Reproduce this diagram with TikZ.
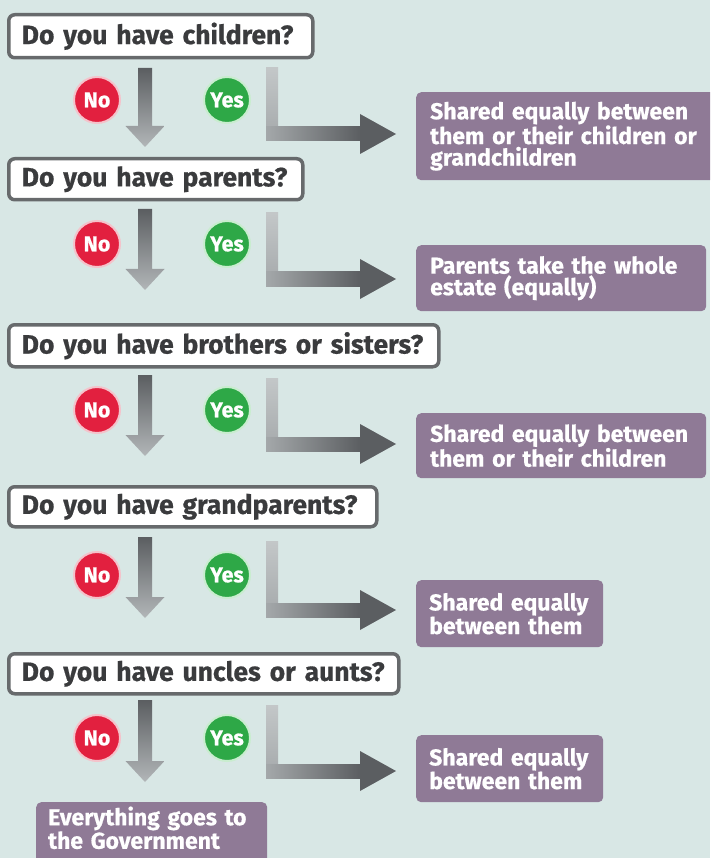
\documentclass[tikz,border=0pt]{standalone}
\usepackage{fontspec}
\setmainfont{Fira Sans}[BoldFeatures={FakeBold=0.6}]
\definecolor{bg}{HTML}{D8E7E5}
\definecolor{purp}{HTML}{8F7A96}
\definecolor{qborder}{HTML}{676A6C}
\definecolor{qtext}{HTML}{3A3B3D}
\definecolor{nored}{HTML}{E2203F}
\definecolor{nohalo}{HTML}{F4C3CB}
\definecolor{yesgreen}{HTML}{2EA847}
\definecolor{yeshalo}{HTML}{C9EDCF}
\definecolor{arrdark}{HTML}{5B5E61}
\definecolor{arrmid}{HTML}{6C6F72}
\definecolor{arrlight}{HTML}{B2B6B8}
\definecolor{lbarA}{HTML}{C3C7C8}
\definecolor{lbarB}{HTML}{A4A8AA}
\newcommand\dnarrow[3]{%
  \shade[top color=arrdark, bottom color=arrlight]
    (#1-7,#2) -- (#1+7,#2) -- (#1+7,#3-21) -- (#1+19.5,#3-21) -- (#1,#3)
    -- (#1-19.5,#3-21) -- (#1-7,#3-21) -- cycle;}
\newcommand\elarrow[2]{%
  \shade[top color=lbarA, bottom color=lbarB] (266,#1) rectangle (278,#2+7);
  \shade[left color=lbarB, middle color=arrmid, right color=arrdark] (266,#2-7) rectangle (361,#2+7);
  \fill[arrdark] (360,#2-20) -- (396,#2) -- (360,#2+20) -- cycle;}
\begin{document}
\begin{tikzpicture}[x=1pt,y=-1pt,
  question/.style={draw=qborder, line width=3.5pt, fill=white, rounded corners=6pt,
    anchor=north west, inner xsep=13pt, inner ysep=0pt, align=left, text=qtext,
    font=\fontsize{26.5}{28}\selectfont\bfseries},
  result/.style={fill=purp, rounded corners=5pt, anchor=north west,
    inner xsep=14pt, inner ysep=0pt, align=left, text=white,
    font=\fontsize{23}{21.5}\selectfont\bfseries},
  nobtn/.style={circle, fill=nored, draw=nohalo, line width=2pt, minimum size=46pt,
    inner sep=0pt, text=white, font=\fontsize{21.5}{22}\selectfont\bfseries},
  yesbtn/.style={nobtn, fill=yesgreen, draw=yeshalo}]
\useasboundingbox (0,0) rectangle (710,858);
\clip (0,0) rectangle (710,858);
\fill[bg] (0,0) rectangle (710,858);

% question boxes
\node[question, minimum width=304pt, minimum height=43pt, text width=278pt] (q1) at (7,13) {Do you have children?};
\node[question, minimum width=294pt, minimum height=41pt, text width=268pt] (q2) at (7,157) {Do you have parents?};
\node[question, minimum width=430pt, minimum height=42pt, text width=404pt] (q3) at (7,323) {Do you have brothers or sisters?};
\node[question, minimum width=368pt, minimum height=40pt, text width=342pt] (q4) at (7,485) {Do you have grandparents?};
\node[question, minimum width=390pt, minimum height=40pt, text width=364pt] (q5) at (7,652) {Do you have uncles or aunts?};

% results
\node[result, minimum width=310pt, minimum height=88pt, text width=282pt] (r1) at (416,92) {Shared equally between\\them or their children or\\grandchildren};
\node[result, minimum width=290pt, minimum height=66pt, text width=262pt] (r2) at (416,245) {Parents take the whole\\estate (equally)};
\node[result, minimum width=290pt, minimum height=65pt, text width=262pt] (r3) at (416,413) {Shared equally between\\them or their children};
\node[result, minimum width=187pt, minimum height=67pt, text width=161pt, inner xsep=13pt] (r4) at (416,580) {Shared~equally\\between~them};
\node[result, minimum width=187pt, minimum height=67pt, text width=161pt, inner xsep=13pt] (r5) at (416,735) {Shared~equally\\between~them};
\node[result, minimum width=231pt, text width=207pt, inner xsep=12pt, inner ysep=7pt,
  text height=16pt, text depth=50pt] (gov) at (36,802) {Everything goes to\\the Government};

% arrows
\dnarrow{145}{68}{147}
\dnarrow{145}{209}{290}
\dnarrow{145}{375}{456}
\dnarrow{145}{537}{618}
\dnarrow{145}{700}{782}
\elarrow{68}{134}
\elarrow{213}{279}
\elarrow{378}{444}
\elarrow{541}{610}
\elarrow{705}{771}

% buttons
\foreach \i/\y in {1/100,2/244,3/410,4/575,5/738}{
  \node[nobtn] (no\i) at (97,\y) {No};
  \node[yesbtn] (yes\i) at (227,\y) {Yes};
}
\end{tikzpicture}
\end{document}
